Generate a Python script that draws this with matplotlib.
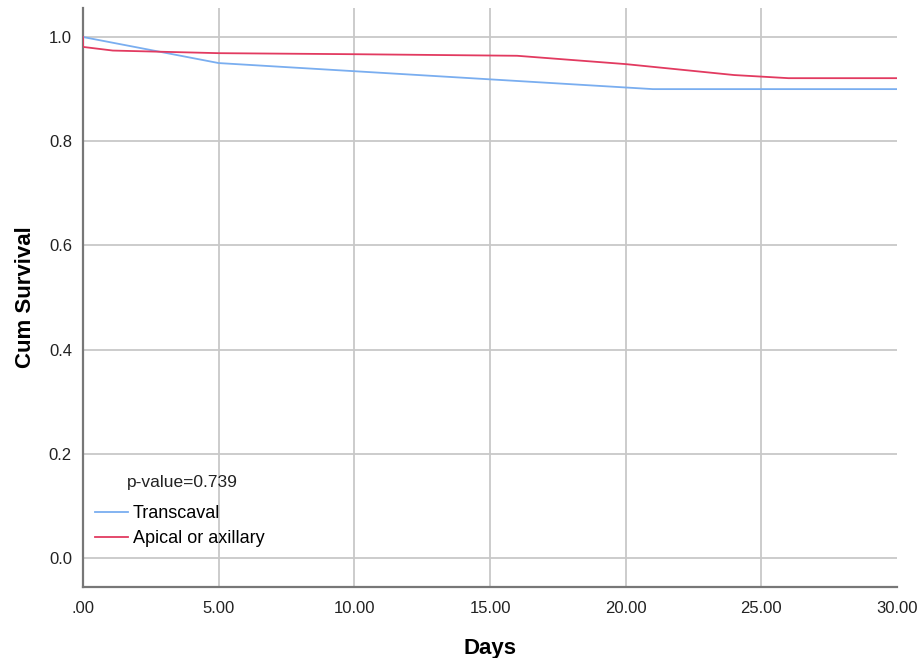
import matplotlib
matplotlib.use("Agg")
import matplotlib.pyplot as plt
from matplotlib.lines import Line2D

plt.rcParams['font.family'] = ['Liberation Sans', 'DejaVu Sans']

# Data
trans_days = [0, 5, 21, 30]
trans_surv = [1.0, 0.950, 0.900, 0.900]

apical_days = [0, 0, 1.1, 5, 10, 16, 20, 24, 26, 30]
apical_surv = [1.0, 0.981, 0.974, 0.969, 0.967, 0.964, 0.948, 0.927, 0.921, 0.921]

xticks = [0, 5, 10, 15, 20, 25, 30]
xticklabels = ['.00', '5.00', '10.00', '15.00', '20.00', '25.00', '30.00']
yticks = [0.0, 0.2, 0.4, 0.6, 0.8, 1.0]
yticklabels = ['0.0', '0.2', '0.4', '0.6', '0.8', '1.0']
series_names = ['Transcaval', 'Apical or axillary']
p_text = 'p-value=0.739'

blue = '#7AAEF0'
red = '#E23A60'
W, H = 918, 658
fig = plt.figure(figsize=(W / 100, H / 100), dpi=100)
ax = fig.add_axes([83 / W, (H - 587) / H, (897 - 83) / W, (587 - 8) / H])

ax.plot(trans_days, trans_surv, color=blue, lw=1.3, zorder=3)
ax.plot(apical_days, apical_surv, color=red, lw=1.3, zorder=3)

ax.set_xlim(0, 30)
ax.set_ylim(-0.0557, 1.0557)
ax.set_xticks(xticks)
ax.set_xticklabels(xticklabels, fontsize=12, color='#222222')
ax.set_yticks(yticks)
ax.set_yticklabels(yticklabels, fontsize=12, color='#222222')
ax.tick_params(length=0, pad=8)
ax.tick_params(axis='x', pad=10)

for x in xticks[1:-1]:
    ax.axvline(x, color='#C8C8C8', lw=1.3, zorder=1)
for y in yticks:
    ax.axhline(y, color='#C8C8C8', lw=1.3, zorder=1)

for s in ['top', 'right']:
    ax.spines[s].set_visible(False)
for s in ['left', 'bottom']:
    ax.spines[s].set_color('#777777')
    ax.spines[s].set_linewidth(1.6)

ax.set_xlabel('Days', fontsize=16, fontweight='bold', labelpad=16)
ax.set_ylabel('Cum Survival', fontsize=16, fontweight='bold', labelpad=9)

handles = [Line2D([], [], color=blue, lw=1.3), Line2D([], [], color=red, lw=1.3)]
leg = ax.legend(handles, series_names, loc='upper left',
                bbox_to_anchor=(95 / W, (H - 505) / H), bbox_transform=fig.transFigure,
                frameon=False, fontsize=13, handlelength=1.85, handletextpad=0.25,
                labelspacing=0.45, borderpad=0, borderaxespad=0)
fig.text(127 / W, (H - 482) / H, p_text, fontsize=12.5, va='center', ha='left', color='#222222')

fig.savefig('out.png', dpi=100, facecolor='white')
